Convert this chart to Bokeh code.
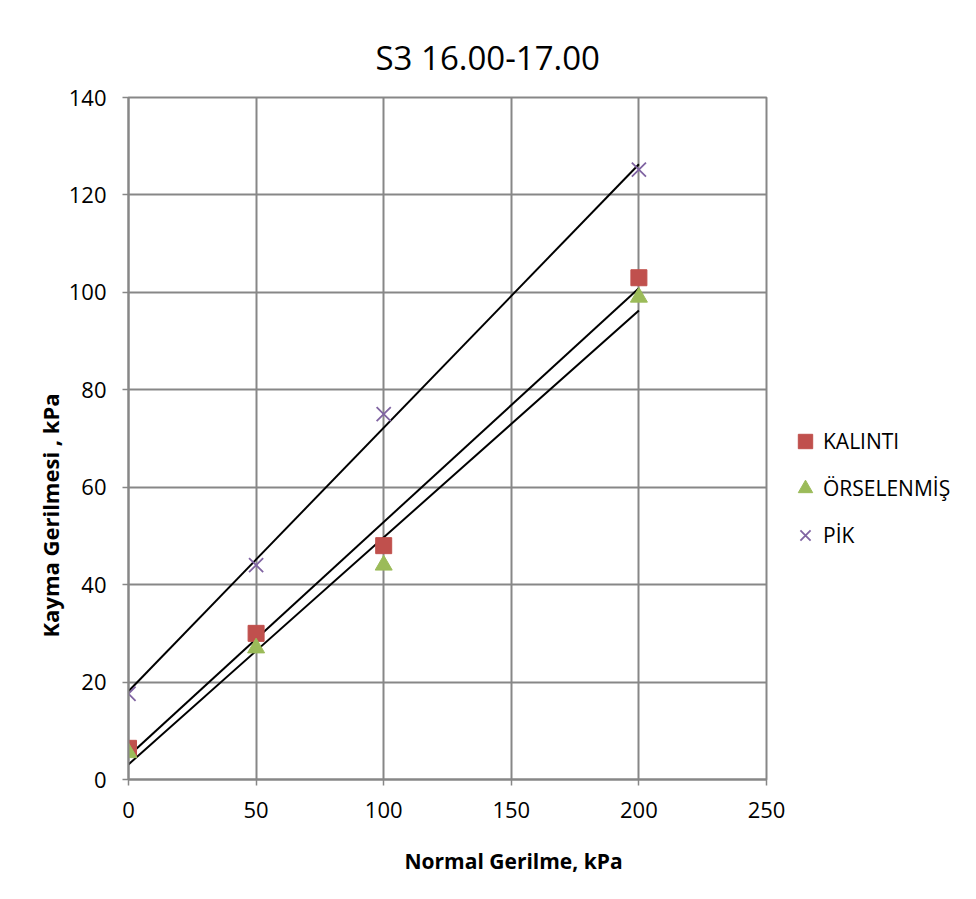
import numpy as np
from bokeh.plotting import figure
from bokeh.models import Legend, LegendItem, FixedTicker, Range1d, Title
from bokeh.embed import file_html
from bokeh.resources import INLINE

# ---- data ----
normal_stress = [0, 50, 100, 200]
kalinti = [6.4, 30.0, 48.0, 103.0]
orselenmis = [5.5, 27.0, 44.0, 99.0]
pik = [17.6, 44.0, 75.0, 125.2]
x_ticks = [0, 50, 100, 150, 200, 250]
y_ticks = [0, 20, 40, 60, 80, 100, 120, 140]
series_names = ["KALINTI", "ÖRSELENMİŞ", "PİK"]
title_text = "S3 16.00-17.00"
x_title = "Normal Gerilme, kPa"
y_title = "Kayma Gerilmesi , kPa"

FONT = "Open Sans"
GRID = "#878787"

p = figure(frame_width=638, frame_height=682,
           min_border_left=128, min_border_right=202,
           min_border_top=97, min_border_bottom=112,
           x_range=Range1d(0, 250), y_range=Range1d(0, 140),
           output_backend="svg", toolbar_location=None)
p.background_fill_color = "white"
p.border_fill_color = "white"
p.outline_line_color = GRID
p.outline_line_width = 2

for ax, ticks in ((p.xaxis, x_ticks), (p.yaxis, y_ticks)):
    ax.ticker = FixedTicker(ticks=ticks)
    ax.axis_line_color = GRID
    ax.axis_line_width = 2
    ax.major_tick_line_color = GRID
    ax.major_tick_line_width = 1.5
    ax.major_tick_out = 6
    ax.major_tick_in = 0
    ax.minor_tick_line_color = None
    ax.major_label_text_font = FONT
    ax.major_label_text_font_size = "22px"
    ax.major_label_text_color = "#000000"
p.xaxis.major_label_standoff = 16
p.yaxis.major_label_standoff = 16

p.xgrid.ticker = FixedTicker(ticks=x_ticks)
p.ygrid.ticker = FixedTicker(ticks=y_ticks)
for g in (p.xgrid, p.ygrid):
    g.grid_line_color = GRID
    g.grid_line_width = 2

# trend lines (least squares fits of the data)
xs = np.array(normal_stress, dtype=float)
line_x = [min(normal_stress), max(normal_stress)]
for ys in (pik, kalinti, orselenmis):
    m, b = np.polyfit(xs, np.array(ys, dtype=float), 1)
    p.line(line_x, [m * line_x[0] + b, m * line_x[1] + b],
           line_color="black", line_width=2)

r1 = p.scatter(normal_stress, kalinti, marker="square", size=16,
               fill_color="#C0504D", line_color="#C0504D")
r2 = p.scatter(normal_stress, orselenmis, marker="triangle", size=17,
               fill_color="#9BBB59", line_color="#9BBB59")
r3 = p.scatter(normal_stress, pik, marker="x", size=20,
               line_color="#8064A2", line_width=1.8)

legend = Legend(items=[LegendItem(label=series_names[0], renderers=[r1]),
                       LegendItem(label=series_names[1], renderers=[r2]),
                       LegendItem(label=series_names[2], renderers=[r3])],
                location=(21, 226))
legend.border_line_color = None
legend.background_fill_alpha = 0
legend.label_text_font = FONT
legend.label_text_font_size = "21px"
legend.label_text_color = "#000000"
legend.label_height = 36
legend.glyph_height = 36
legend.glyph_width = 36
legend.spacing = 11
legend.padding = 10
legend.margin = 0
legend.label_standoff = 0
p.add_layout(legend, "right")

# title and axis titles
p.add_layout(Title(text=title_text, text_font=FONT, text_font_size="33px",
                   text_font_style="normal", align="left", offset=247,
                   standoff=36, text_color="#000000"), "above")
p.add_layout(Title(text=x_title, text_font=FONT, text_font_size="21px",
                   text_font_style="bold", align="left", offset=276,
                   standoff=52, vertical_align="top",
                   text_color="#000000"), "below")
p.add_layout(Title(text=y_title, text_font=FONT, text_font_size="22px",
                   text_font_style="bold", align="left", offset=142,
                   standoff=2, text_color="#000000"), "left")

open("out.html", "w").write(file_html(p, INLINE))
